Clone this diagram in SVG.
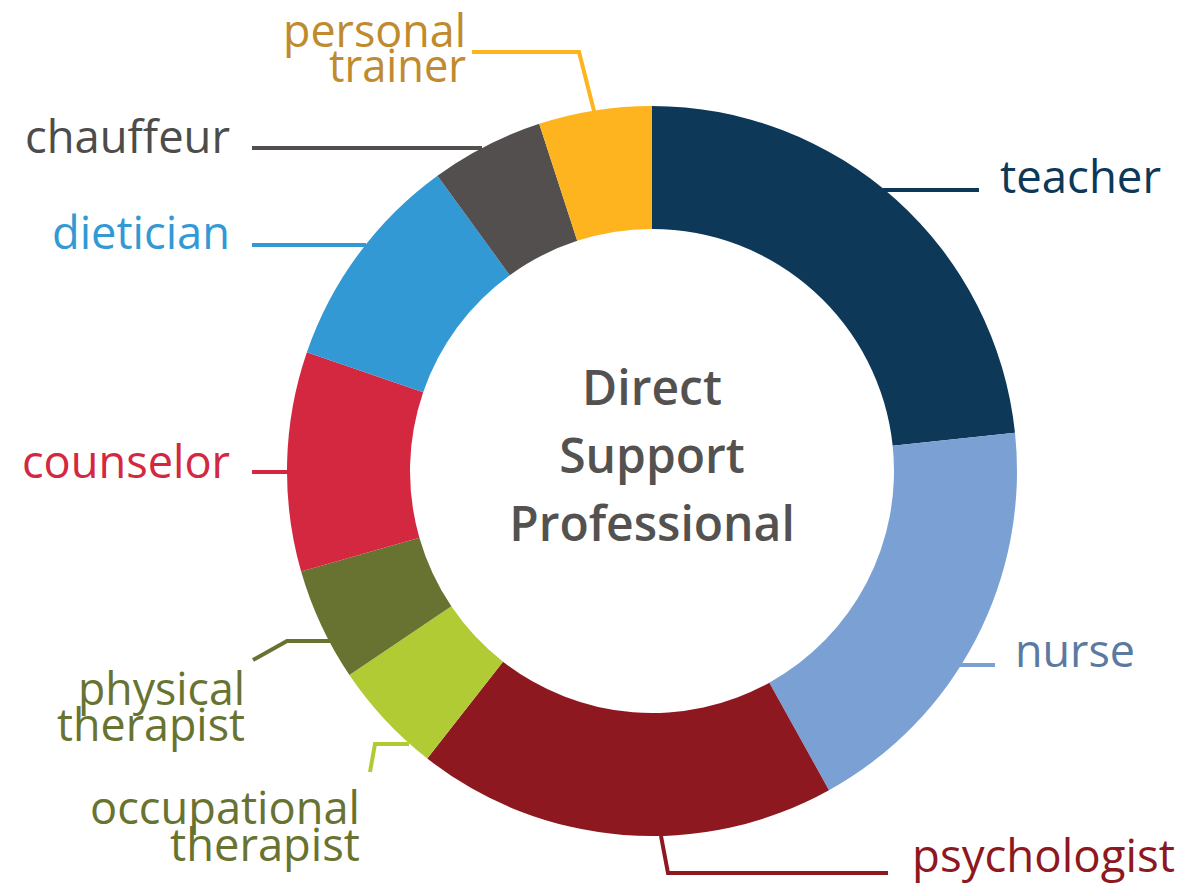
<svg xmlns="http://www.w3.org/2000/svg" width="1183" height="894" viewBox="0 0 1183 894">
<style>
.lbl{font-family:"Open Sans","Noto Sans","Liberation Sans",sans-serif;font-size:46px;font-weight:400}
.ctr{font-family:"Open Sans","Noto Sans","Liberation Sans",sans-serif;font-size:48px;font-weight:600;fill:#545251;text-anchor:middle}
.ld{fill:none;stroke-width:4;stroke-linejoin:miter}
</style>
<rect width="1183" height="894" fill="#ffffff"/>
<g id="ring">
<g id="seg-teacher"><path d="M652,106 A365,365 0 0 1 1015,432.85 L892.67,445.7 A242,242 0 0 0 652,229 Z" fill="#0d3858"/></g>
<g id="seg-nurse"><path d="M1015,432.85 A365,365 0 0 1 828.96,790.24 L769.32,682.66 A242,242 0 0 0 892.67,445.7 Z" fill="#7ba1d4"/></g>
<g id="seg-psychologist"><path d="M828.96,790.24 A365,365 0 0 1 427.28,758.62 L503.01,661.7 A242,242 0 0 0 769.32,682.66 Z" fill="#8d181f"/></g>
<g id="seg-occupational"><path d="M427.28,758.62 A365,365 0 0 1 349.4,675.1 L451.37,606.32 A242,242 0 0 0 503.01,661.7 Z" fill="#b1cb35"/></g>
<g id="seg-physical"><path d="M349.4,675.1 A365,365 0 0 1 301.14,571.61 L419.38,537.71 A242,242 0 0 0 451.37,606.32 Z" fill="#687331"/></g>
<g id="seg-counselor"><path d="M301.14,571.61 A365,365 0 0 1 306.89,352.17 L423.18,392.21 A242,242 0 0 0 419.38,537.71 Z" fill="#d3283f"/></g>
<g id="seg-dietician"><path d="M306.89,352.17 A365,365 0 0 1 437.46,175.71 L509.75,275.22 A242,242 0 0 0 423.18,392.21 Z" fill="#3399d4"/></g>
<g id="seg-chauffeur"><path d="M437.46,175.71 A365,365 0 0 1 539.21,123.86 L577.22,240.84 A242,242 0 0 0 509.75,275.22 Z" fill="#524f4e"/></g>
<g id="seg-trainer"><path d="M539.21,123.86 A365,365 0 0 1 652,106 L652,229 A242,242 0 0 0 577.22,240.84 Z" fill="#fdb41e"/></g>
</g>
<g id="connectors">
<polyline class="ld" stroke="#fdb41e" points="472,52 579,52 594,111"/>
<polyline class="ld" stroke="#524f4e" points="252,148 482,148"/>
<polyline class="ld" stroke="#3399d4" points="252,245 366,245"/>
<polyline class="ld" stroke="#0d3858" points="883,190 979,190"/>
<polyline class="ld" stroke="#d3283f" points="252,472 288,472"/>
<polyline class="ld" stroke="#687331" points="253,660 287,641 330,641"/>
<polyline class="ld" stroke="#b1cb35" points="370,772 375,744 409,744"/>
<polyline class="ld" stroke="#8d181f" points="661,836 668,873 888,873"/>
<polyline class="ld" stroke="#7ba1d4" points="960,665 995,665"/>
</g>
<g id="center-label">
<text class="ctr" x="652" y="405">Direct</text>
<text class="ctr" x="652" y="473">Support</text>
<text class="ctr" x="652" y="541">Professional</text>
</g>
<g id="label-trainer">
<text class="lbl" fill="#c08a2e" text-anchor="end" x="466" y="47" textLength="183" lengthAdjust="spacingAndGlyphs">personal</text>
<text class="lbl" fill="#c08a2e" text-anchor="end" x="466" y="82" textLength="137" lengthAdjust="spacingAndGlyphs">trainer</text>
</g>
<g id="label-chauffeur"><text class="lbl" fill="#4d4c4b" text-anchor="end" x="230" y="153" textLength="205" lengthAdjust="spacingAndGlyphs">chauffeur</text></g>
<g id="label-dietician"><text class="lbl" fill="#3399d4" text-anchor="end" x="230" y="249" textLength="178" lengthAdjust="spacingAndGlyphs">dietician</text></g>
<g id="label-counselor"><text class="lbl" fill="#d3283f" text-anchor="end" x="230" y="478" textLength="208" lengthAdjust="spacingAndGlyphs">counselor</text></g>
<g id="label-physical">
<text class="lbl" fill="#687331" text-anchor="end" x="245" y="705" textLength="167" lengthAdjust="spacingAndGlyphs">physical</text>
<text class="lbl" fill="#687331" text-anchor="end" x="245" y="741" textLength="188" lengthAdjust="spacingAndGlyphs">therapist</text>
</g>
<g id="label-occupational">
<text class="lbl" fill="#687331" text-anchor="end" x="360" y="824" textLength="270" lengthAdjust="spacingAndGlyphs">occupational</text>
<text class="lbl" fill="#687331" text-anchor="end" x="360" y="861" textLength="190" lengthAdjust="spacingAndGlyphs">therapist</text>
</g>
<g id="label-psychologist"><text class="lbl" fill="#8d181f" x="912" y="872" textLength="263" lengthAdjust="spacingAndGlyphs">psychologist</text></g>
<g id="label-nurse"><text class="lbl" fill="#5b7aa1" x="1015" y="667" textLength="120" lengthAdjust="spacingAndGlyphs">nurse</text></g>
<g id="label-teacher"><text class="lbl" fill="#0d3858" x="1000" y="193" textLength="161" lengthAdjust="spacingAndGlyphs">teacher</text></g>
</svg>
